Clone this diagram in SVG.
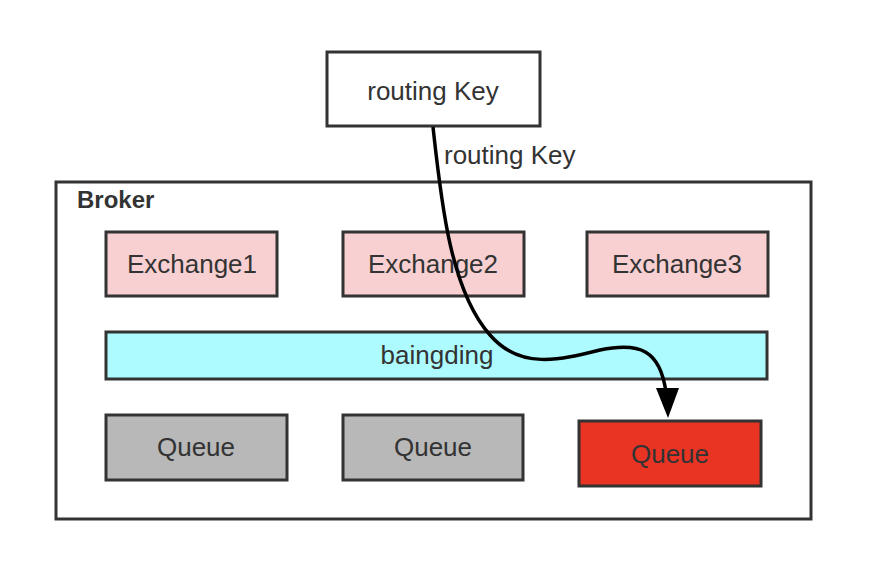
<svg xmlns="http://www.w3.org/2000/svg" width="874" height="568" viewBox="0 0 874 568">
<style>
.box{stroke:#333;stroke-width:3}
.t{font-family:"Liberation Sans",Arial,sans-serif;font-size:26px;fill:#333;text-anchor:middle}
.ex{fill:#f8d0d1}
.q{fill:#b8b8b8}
</style>
<rect width="874" height="568" fill="#fff"/>
<g id="broker"><rect class="box" x="56" y="182" width="755" height="337" fill="#fff"/><text x="77" y="208" style="font-family:'Liberation Sans',Arial,sans-serif;font-size:24px;font-weight:bold;fill:#333">Broker</text></g>
<g id="routingKey"><rect class="box" x="327" y="52" width="213" height="74" fill="#fff"/><text class="t" x="433" y="100">routing Key</text></g>
<g id="exchange1"><rect class="box ex" x="106" y="232" width="171" height="64"/><text class="t" x="192" y="273">Exchange1</text></g>
<g id="exchange2"><rect class="box ex" x="343" y="232" width="181" height="64"/><text class="t" x="433" y="273">Exchange2</text></g>
<g id="exchange3"><rect class="box ex" x="587" y="232" width="181" height="64"/><text class="t" x="677" y="273">Exchange3</text></g>
<g id="binding"><rect class="box" x="106" y="332" width="661" height="47" fill="#aefbff"/><text class="t" x="437" y="364">baingding</text></g>
<g id="queue1"><rect class="box q" x="106" y="415" width="181" height="65"/><text class="t" x="196" y="456">Queue</text></g>
<g id="queue2"><rect class="box q" x="343" y="415" width="180" height="65"/><text class="t" x="433" y="456">Queue</text></g>
<g id="queue3"><rect class="box" x="579" y="421" width="182" height="65" fill="#e93323"/><text class="t" x="670" y="463">Queue</text></g>
<g id="connectors">
<path d="M433,127 C441,200 450,290 490,335 C520,370 560,360 600,350 C640,342 660,350 666,392" fill="none" stroke="#000" stroke-width="3.5"/>
<path d="M656,388 L679,388 L668,418 Z" fill="#000"/>
<text x="444" y="164" style="font-family:'Liberation Sans',Arial,sans-serif;font-size:26px;fill:#333">routing Key</text>
</g>
</svg>
